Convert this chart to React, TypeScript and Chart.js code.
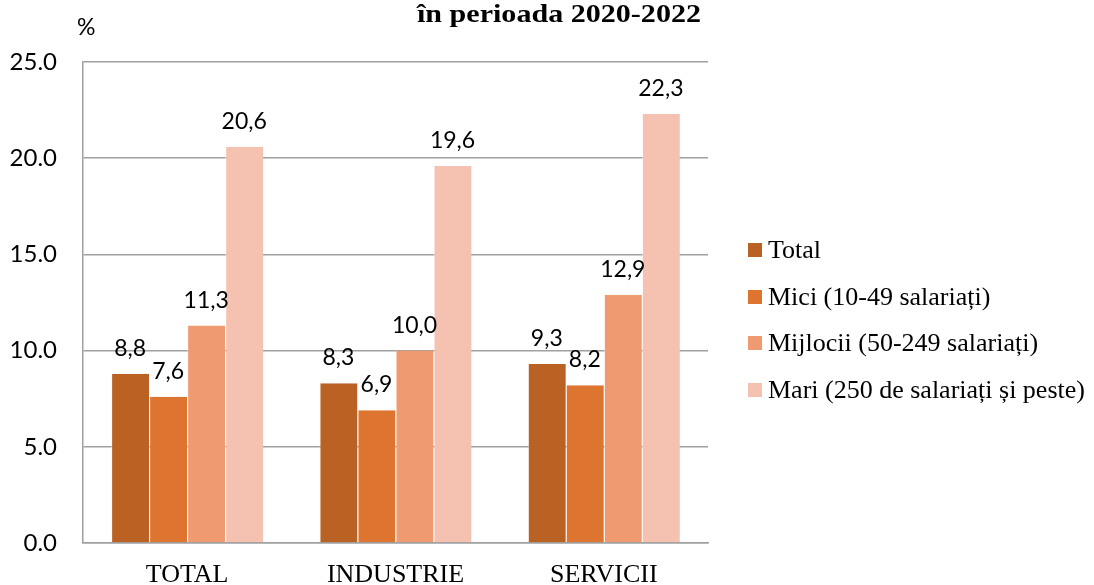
import React, { useEffect, useRef } from "react";
import { Chart, registerables } from "chart.js";

Chart.register(...registerables);

const categories = ["TOTAL", "INDUSTRIE", "SERVICII"];
const seriesNames = [
  "Total",
  "Mici (10-49 salariați)",
  "Mijlocii (50-249 salariați)",
  "Mari (250 de salariați și peste)",
];
const totalValues = [8.8, 8.3, 9.3];
const miciValues = [7.6, 6.9, 8.2];
const mijlociiValues = [11.3, 10.0, 12.9];
const mariValues = [20.6, 19.6, 22.3];
const seriesColors = ["#BA6124", "#DD7430", "#EF9A71", "#F5C2B2"];
const yTicks = [0, 5, 10, 15, 20, 25];
const titleText = "în perioada 2020-2022";
const unitText = "%";

const valueLabels = {
  id: "valueLabels",
  afterDatasetsDraw(chart: any) {
    const ctx = chart.ctx;
    ctx.save();
    ctx.font = '23px Lato';
    ctx.fillStyle = "#000";
    ctx.textAlign = "center";
    ctx.textBaseline = "alphabetic";
    chart.data.datasets.forEach((ds: any, di: number) => {
      const meta = chart.getDatasetMeta(di);
      meta.data.forEach((el: any, i: number) => {
        const v = ds.data[i] as number;
        ctx.fillText(v.toFixed(1).replace(".", ","), el.x, el.y - 18);
      });
    });
    ctx.restore();
  },
};

const extraTexts = {
  id: "extraTexts",
  afterDraw(chart: any) {
    const ctx = chart.ctx;
    const area = chart.chartArea;
    ctx.save();
    ctx.fillStyle = "#000";
    ctx.textAlign = "left";
    ctx.textBaseline = "alphabetic";
    ctx.font = 'bold 25px "Liberation Serif"';
    const w = ctx.measureText(titleText).width;
    ctx.translate(417, 22);
    ctx.scale(284 / w, 1);
    ctx.fillText(titleText, 0, 0);
    ctx.restore();
    ctx.save();
    ctx.fillStyle = "#000";
    ctx.font = '23px Lato';
    ctx.textAlign = "left";
    ctx.textBaseline = "alphabetic";
    ctx.fillText(unitText, area.left - 6, area.top - 27);
    ctx.restore();
  },
};

export default function App() {
  const ref = useRef<HTMLCanvasElement | null>(null);
  useEffect(() => {
    if (!ref.current) return;
    const gridColor = "#a0a0a0";
    const chart = new Chart(ref.current, {
      type: "bar",
      data: {
        labels: categories,
        datasets: [totalValues, miciValues, mijlociiValues, mariValues].map((d, i) => ({
          label: seriesNames[i],
          data: d,
          backgroundColor: seriesColors[i],
          borderColor: "rgba(255,255,255,0.45)",
          borderWidth: { left: 1, right: 0, top: 0, bottom: 0 },
          borderSkipped: false,
          barPercentage: 1,
          categoryPercentage: 0.73,
        })),
      },
      options: {
        animation: false,
        responsive: true,
        maintainAspectRatio: false,
        layout: { padding: { top: 62, left: 0, right: 386, bottom: 0 } },
        plugins: {
          tooltip: { enabled: false },
          title: { display: false },
          legend: { display: false },
        },
        scales: {
          x: {
            grid: { display: false, drawTicks: false },
            border: { display: true, color: gridColor, width: 1.5 },
            ticks: { color: "#000", font: { family: "Liberation Serif", size: 26 }, padding: 17 },
            afterFit: (s: any) => { s.height = 42; },
          },
          y: {
            min: 0,
            max: 25,
            afterBuildTicks: (s: any) => { s.ticks = yTicks.map((v) => ({ value: v })); },
            grid: { color: gridColor, lineWidth: 1.5, drawTicks: false },
            border: { display: true, color: gridColor, width: 1.5 },
            ticks: {
              color: "#000",
              font: { family: "Lato", size: 24 },
              padding: 26,
              callback: (v: any) => Number(v).toFixed(1),
            },
            afterFit: (s: any) => { s.width = 83; },
          },
        },
      },
      plugins: [valueLabels, extraTexts],
    } as any);
    return () => chart.destroy();
  }, []);
  return (
    <div style={{ position: "absolute", left: 0, top: 0, width: 1094, height: 585, background: "#fff" }}>
      <canvas ref={ref} />
      <div
        style={{
          position: "absolute",
          left: 748,
          top: 226.75,
          fontFamily: '"Liberation Serif"',
          fontSize: 26,
          color: "#000",
        }}
      >
        {seriesNames.map((name, i) => (
          <div
            key={name}
            style={{ display: "flex", alignItems: "center", height: 46.5, whiteSpace: "nowrap" }}
          >
            <span
              style={{
                display: "inline-block",
                width: 14,
                height: 14,
                background: seriesColors[i],
                marginRight: 6,
                flex: "none",
              }}
            />
            <span>{name}</span>
          </div>
        ))}
      </div>
    </div>
  );
}
